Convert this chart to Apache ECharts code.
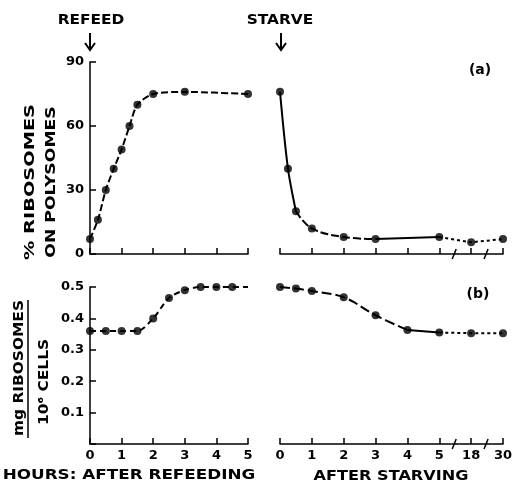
<!DOCTYPE html>
<html>
<head>
<meta charset="utf-8">
<script src="https://cdn.jsdelivr.net/npm/echarts@6/dist/echarts.min.js"></script>
<style>
  html, body { margin: 0; padding: 0; background: #fff; }
  #chart { width: 516px; height: 483px; }
</style>
</head>
<body>
<div id="chart"></div>
<script>
// panel (a): % ribosomes on polysomes
const refeedHoursA = [0, 0.25, 0.5, 0.75, 1, 1.25, 1.5, 2, 3, 5]
const refeedPolysomes = [7, 16, 30, 40, 49, 60, 70, 75, 76, 75]
const starveHoursA = [0, 0.25, 0.5, 1, 2, 3, 5, 18, 30]
const starvePolysomes = [76, 40, 20, 12, 8, 7, 8, 5.5, 7]

// panel (b): mg ribosomes / 10^6 cells
const refeedHoursB = [0, 0.5, 1, 1.5, 2, 2.5, 3, 3.5, 4, 4.5, 5]
const refeedRibosomes = [0.36, 0.36, 0.36, 0.36, 0.40, 0.465, 0.49, 0.5, 0.5, 0.5, 0.5]
const starveHoursB = [0, 0.5, 1, 2, 3, 4, 5, 18, 30]
const starveRibosomes = [0.5, 0.495, 0.487, 0.467, 0.41, 0.363, 0.355, 0.353, 0.353]

// tick labels
const refeedTicks = ['0', '1', '2', '3', '4', '5']
const starveTicks = ['0', '1', '2', '3', '4', '5', '18', '30']

const FONT = 'DejaVu Sans'
const black = '#000'

// the starve axis is broken after 5 h: 18 h and 30 h get their own slots
const slot = h => (h <= 5 ? h : starveTicks.indexOf(String(h)))

const pairs = (xs, ys, map) => xs.map((x, i) => [map ? map(x) : x, ys[i]])

const seg = (gi, data, dash, smooth) => ({
  type: 'line',
  xAxisIndex: gi,
  yAxisIndex: gi,
  data: data,
  symbol: 'none',
  smooth: smooth || false,
  silent: true,
  clip: false,
  lineStyle: { color: black, width: 2, type: dash }
})

const dots = (gi, data) => ({
  type: 'scatter',
  xAxisIndex: gi,
  yAxisIndex: gi,
  data: data,
  symbolSize: 8,
  clip: false,
  silent: true,
  itemStyle: { color: black }
})

const topLeft = pairs(refeedHoursA, refeedPolysomes)
const topRight = pairs(starveHoursA, starvePolysomes, slot)
const botLeft = pairs(refeedHoursB, refeedRibosomes)
const botRight = pairs(starveHoursB, starveRibosomes, slot)

const axisLine = { show: true, onZero: false, lineStyle: { color: black, width: 1.5 } }
const axisTick = { show: true, inside: true, length: 6, lineStyle: { color: black, width: 1.5 } }
const labelStyle = { color: black, fontFamily: FONT, fontWeight: 'bold', fontSize: 13 }

const xAxis = (gi, max, ticks) => ({
  type: 'value',
  gridIndex: gi,
  min: 0,
  max: max,
  interval: 1,
  axisLine: axisLine,
  axisTick: axisTick,
  splitLine: { show: false },
  axisLabel: ticks
    ? Object.assign({ margin: 5, formatter: v => ticks[v] }, labelStyle)
    : { show: false }
})

const yAxis = (gi, max, interval, show, fmt) => ({
  type: 'value',
  gridIndex: gi,
  show: show,
  min: 0,
  max: max,
  interval: interval,
  axisLine: axisLine,
  axisTick: axisTick,
  splitLine: { show: false },
  axisLabel: Object.assign({ margin: 6, formatter: fmt }, labelStyle)
})

const chart = echarts.init(document.getElementById('chart'), null, { renderer: 'canvas' })

const text = (x, y, str, opts) => Object.assign({
  type: 'text',
  x: x,
  y: y,
  style: {
    text: str,
    fill: black,
    font: 'bold 14px "' + FONT + '"',
    align: 'center',
    verticalAlign: 'middle'
  }
}, opts || {})

const arrow = x => ({
  type: 'group',
  children: [
    { type: 'line', shape: { x1: x, y1: 33, x2: x, y2: 50 }, style: { stroke: black, lineWidth: 2 } },
    { type: 'polyline', shape: { points: [[x - 5, 43], [x, 50], [x + 5, 43]] }, style: { stroke: black, lineWidth: 2, fill: null } }
  ]
})

const option = {
  animation: false,
  backgroundColor: '#fff',
  grid: [
    { left: 90, top: 62, width: 158, height: 192, outerBoundsMode: 'none' },
    { left: 280, top: 62, width: 223, height: 192, outerBoundsMode: 'none' },
    { left: 90, top: 287, width: 158, height: 157, outerBoundsMode: 'none' },
    { left: 280, top: 287, width: 223, height: 157, outerBoundsMode: 'none' }
  ],
  xAxis: [
    xAxis(0, 5, null),
    xAxis(1, 7, null),
    xAxis(2, 5, refeedTicks),
    xAxis(3, 7, starveTicks)
  ],
  yAxis: [
    yAxis(0, 90, 30, true, v => String(v)),
    yAxis(1, 90, 30, false),
    yAxis(2, 0.5, 0.1, true, v => (v === 0 ? '' : v.toFixed(1))),
    yAxis(3, 0.5, 0.1, false)
  ],
  series: [
    seg(0, topLeft, [7, 3], 0.25),
    dots(0, topLeft),

    seg(1, topRight.slice(0, 3), 'solid', 0.3),
    seg(1, topRight.slice(2, 6), [8, 3], 0.4),
    seg(1, topRight.slice(5, 7), 'solid'),
    seg(1, topRight.slice(6), [3, 3]),
    dots(1, topRight),

    seg(2, botLeft, [6, 4], 0.3),
    // the line runs on to 5 h but the last dot is at 4.5 h
    dots(2, botLeft.slice(0, -1)),

    seg(3, botRight.slice(0, 6), [10, 4], 0.4),
    seg(3, botRight.slice(5, 7), 'solid'),
    seg(3, botRight.slice(6), [3, 3]),
    dots(3, botRight)
  ]
}

chart.setOption(option)

// labels, arrows, axis names and axis breaks
const graphics = [
  text(91, 20, 'REFEED', { scaleX: 1.1 }),
  text(280, 20, 'STARVE', { scaleX: 1.1 }),
  arrow(90),
  arrow(281),
  text(480, 70, '(a)'),
  text(478, 294, '(b)'),
  text(30, 182, '% RIBOSOMES', { rotation: Math.PI / 2, scaleX: 1.38 }),
  text(51, 182, 'ON POLYSOMES', { rotation: Math.PI / 2, scaleX: 1.23 }),
  text(19, 368, 'mg RIBOSOMES', { rotation: Math.PI / 2, scaleX: 1.1 }),
  { type: 'line', shape: { x1: 28, y1: 300, x2: 28, y2: 438 }, style: { stroke: black, lineWidth: 1.5 } },
  text(44, 382, '10⁶ CELLS', { rotation: Math.PI / 2, scaleX: 1.1 }),
  text(129, 475, 'HOURS: AFTER REFEEDING', { scaleX: 1.2 }),
  text(391, 476, 'AFTER STARVING', { scaleX: 1.15 })
]

;[1, 3].forEach(gi => {
  [5.5, 6.5].forEach(b => {
    const p = chart.convertToPixel({ xAxisIndex: gi, yAxisIndex: gi }, [b, 0])
    const x = p[0]
    const y = p[1]
    graphics.push({ type: 'rect', shape: { x: x - 4, y: y - 2, width: 8, height: 4 }, style: { fill: '#fff' }, z: 10 })
    graphics.push({
      type: 'polyline',
      z: 11,
      shape: { points: [[x - 4, y], [x - 1, y], [x - 3, y + 5]] },
      style: { stroke: black, lineWidth: 1.5, fill: null }
    })
    graphics.push({
      type: 'polyline',
      z: 11,
      shape: { points: [[x + 1, y - 5], [x - 1, y], [x + 4, y]] },
      style: { stroke: black, lineWidth: 1.5, fill: null }
    })
  })
})

chart.setOption({ graphic: graphics })

window.addEventListener('resize', () => chart.resize())
</script>
</body>
</html>
